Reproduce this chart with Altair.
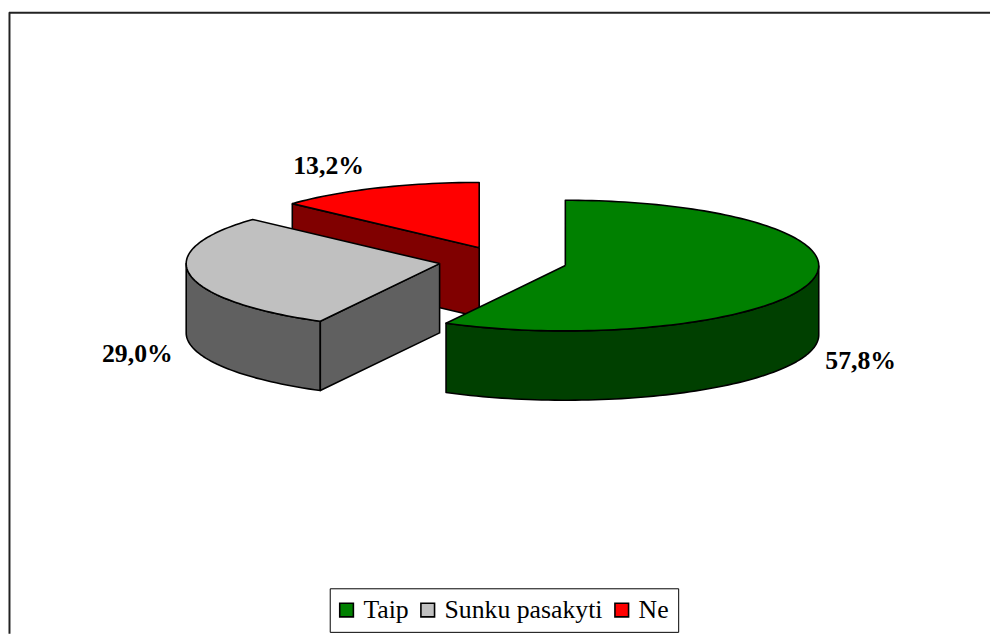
import math
import altair as alt
import pandas as pd

# ---- chart values ----
categories = ["Taip", "Sunku pasakyti", "Ne"]
shares = [57.8, 29.0, 13.2]
labels = ["57,8%", "29,0%", "13,2%"]
top_colors = ["#008000", "#C0C0C0", "#FF0000"]
side_colors = ["#004000", "#606060", "#800000"]

# ---- 3D pie projection (page pixels) ----
RX, RY, DEPTH = 256, 66, 70
slice_centers = {"Taip": (570, 268), "Sunku pasakyti": (443, 266), "Ne": (483, 250)}
label_shift = {"Taip": (50, 80), "Sunku pasakyti": (-53, 80), "Ne": (-49, -22)}

W, H = 991, 628
TOP = 12
x_scale = alt.Scale(domain=[8, 8 + W], range=[0, W], nice=False, zero=False)
y_scale = alt.Scale(domain=[TOP, TOP + H], range=[0, H], nice=False, zero=False)
X = alt.X("x:Q", scale=x_scale, axis=None)
Y = alt.Y("y:Q", scale=y_scale, axis=None)


def pt(c, a, dz=0):
    r = math.radians(a)
    return (c[0] + RX * math.sin(r), c[1] - RY * math.cos(r) + dz)


def arc(c, a0, a1, dz=0):
    n = max(2, int(abs(a1 - a0) / 1.5))
    return [pt(c, a0 + (a1 - a0) * i / n, dz) for i in range(n + 1)]


def frame(points):
    pts = points + [points[0]]
    return pd.DataFrame({"x": [p[0] for p in pts], "y": [p[1] for p in pts], "i": range(len(pts))})


def poly(points, color, name=None):
    df = frame(points)
    if name is None:
        return alt.Chart(df).mark_line(fill=color, stroke="black", strokeWidth=1.6, strokeJoin="round").encode(
            x=X, y=Y, order="i:Q")
    df["name"] = name
    return alt.Chart(df).mark_line(stroke="black", strokeWidth=1.6, strokeJoin="round").encode(
        x=X, y=Y, order="i:Q",
        fill=alt.Fill("name:N", scale=alt.Scale(domain=categories, range=top_colors), sort=categories,
                      legend=alt.Legend(title=None, orient="none", legendX=324, legendY=582, direction="horizontal",
                                        columns=3, columnPadding=8, padding=9, strokeColor="black", fillColor="white",
                                        symbolType="square", symbolSize=190, symbolStrokeColor="black",
                                        symbolOffset=-5,
                                        symbolStrokeWidth=1.6, labelFont="Liberation Serif", labelFontSize=26,
                                        labelColor="black", labelOffset=4, symbolOpacity=1)),
    )


angles = []
start = 0.0
for s in shares:
    angles.append((start, start + s * 3.6))
    start += s * 3.6

green_a, gray_a, red_a = angles
g_c, s_c, r_c = (slice_centers[n] for n in categories)

layers = []
# red slice: cut face, then top
p = pt(r_c, red_a[0])
layers.append(poly([p, r_c, (r_c[0], r_c[1] + DEPTH), (p[0], p[1] + DEPTH)], side_colors[2]))
layers.append(poly([r_c] + arc(r_c, *red_a), top_colors[2], categories[2]))
# grey slice: rim, cut face, top
layers.append(poly(arc(s_c, gray_a[0], 270) + arc(s_c, 270, gray_a[0], DEPTH), side_colors[1]))
p = pt(s_c, gray_a[0])
layers.append(poly([p, s_c, (s_c[0], s_c[1] + DEPTH), (p[0], p[1] + DEPTH)], side_colors[1]))
layers.append(poly([s_c] + arc(s_c, *gray_a), top_colors[1], categories[1]))
# green slice: rim, top
layers.append(poly(arc(g_c, 90, green_a[1]) + arc(g_c, green_a[1], 90, DEPTH), side_colors[0]))
layers.append(poly([g_c] + arc(g_c, *green_a), top_colors[0], categories[0]))

# data labels anchored on each slice's mid angle
rows = []
for n, lab, (a0, a1) in zip(categories, labels, angles):
    m = pt(slice_centers[n], (a0 + a1) / 2)
    rows.append({"x": m[0] + label_shift[n][0], "y": m[1] + label_shift[n][1], "t": lab})
text = alt.Chart(pd.DataFrame(rows)).mark_text(
    font="Liberation Serif", fontSize=26, fontWeight="bold", color="black"
).encode(x=X, y=Y, text="t:N")

# chart-area frame: top and left edges
top_rule = alt.Chart(pd.DataFrame({"y": [12.5]})).mark_rule(color="#222222", strokeWidth=2).encode(y=Y)
left_rule = alt.Chart(pd.DataFrame({"x": [8.5]})).mark_rule(color="#222222", strokeWidth=2).encode(x=X)

chart = alt.layer(top_rule, left_rule, *layers, text).properties(
    width=W, height=H, padding=0, background="white"
).configure_view(stroke=None)

chart.save("out.html", embed_options={"renderer": "svg", "actions": False})
